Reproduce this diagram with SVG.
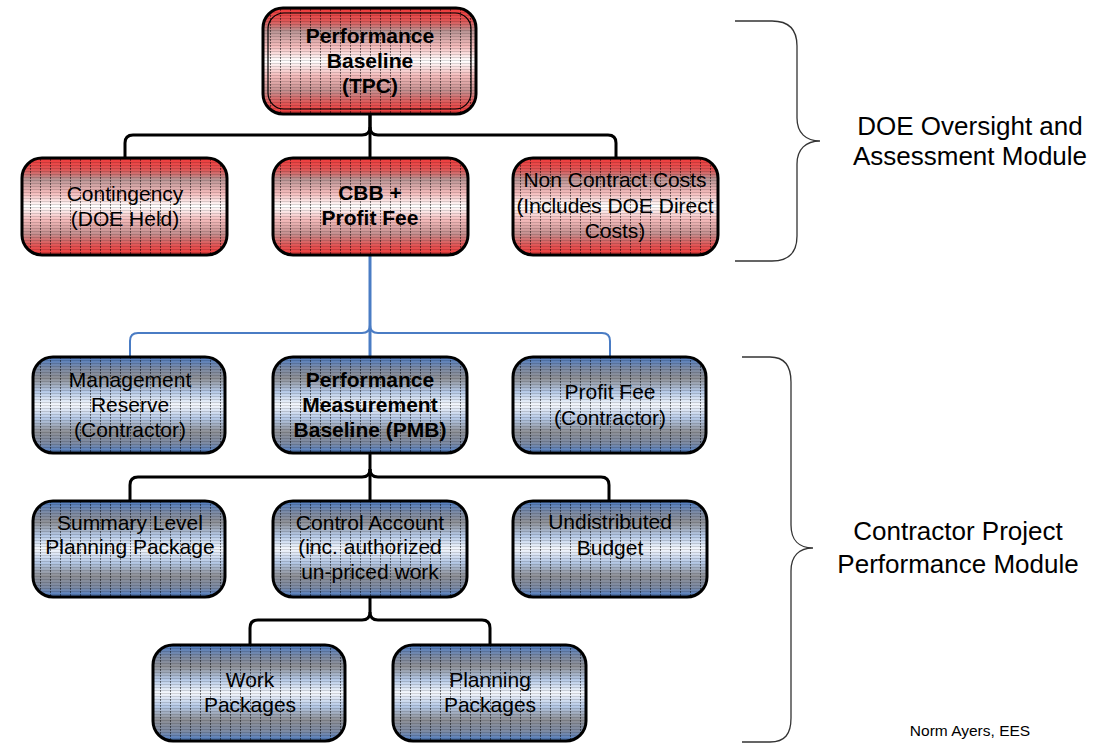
<svg xmlns="http://www.w3.org/2000/svg" width="1116" height="744" viewBox="0 0 1116 744">
<defs>
<linearGradient id="gRed" x1="0" y1="0" x2="0" y2="1">
<stop offset="0" stop-color="#f23a3a"/>
<stop offset="0.12" stop-color="#e05555"/>
<stop offset="0.22" stop-color="#b89494"/>
<stop offset="0.36" stop-color="#f4baba"/>
<stop offset="0.5" stop-color="#ffffff"/>
<stop offset="0.64" stop-color="#f4baba"/>
<stop offset="0.78" stop-color="#c49090"/>
<stop offset="0.9" stop-color="#e05555"/>
<stop offset="1" stop-color="#f23a3a"/>
</linearGradient>
<linearGradient id="gBlue" x1="0" y1="0" x2="0" y2="1">
<stop offset="0" stop-color="#4f7fc8"/>
<stop offset="0.12" stop-color="#7c8aa4"/>
<stop offset="0.22" stop-color="#8e9096"/>
<stop offset="0.36" stop-color="#b4c8e6"/>
<stop offset="0.5" stop-color="#f4f7fc"/>
<stop offset="0.64" stop-color="#b4c8e6"/>
<stop offset="0.78" stop-color="#8e9096"/>
<stop offset="0.9" stop-color="#7c8aa4"/>
<stop offset="1" stop-color="#4f7fc8"/>
</linearGradient>
<pattern id="hatch" patternUnits="userSpaceOnUse" width="10" height="3">
<rect x="0" y="0" width="10" height="1" fill="#000" fill-opacity="0.14"/>
<rect x="0" y="0" width="1" height="2" fill="#000" fill-opacity="0.5"/>
</pattern>
</defs>
<style>
.bg{stroke:none}
.red{fill:url(#gRed)}
.blue{fill:url(#gBlue)}
.hatch{fill:url(#hatch);stroke:#000;stroke-width:3}
.t{font-family:"Liberation Sans",Arial,sans-serif;font-size:21px;fill:#000;text-anchor:middle}
.b{font-weight:bold}
.conn{fill:none;stroke:#000;stroke-width:3}
.bconn{fill:none;stroke:#4a7cc4;stroke-width:2}
.brace{fill:none;stroke:#333;stroke-width:1.3}
.side{font-family:"Liberation Sans",Arial,sans-serif;font-size:26px;fill:#000;text-anchor:middle}
.note{font-family:"Liberation Sans",Arial,sans-serif;font-size:15.5px;fill:#000;text-anchor:middle}
</style>

<g id="connectors">
<path class="conn" d="M370,114 V127 Q370,135 362,135 H133 Q125,135 125,143 V158"/>
<path class="conn" d="M370,114 V158"/>
<path class="conn" d="M370,127 Q370,135 378,135 H608 Q616,135 616,143 V158"/>
<path class="bconn" style="stroke-width:3" d="M370,255 V357"/>
<path class="bconn" d="M370,325 Q370,333 362,333 H138 Q130,333 130,341 V357"/>
<path class="bconn" d="M370,325 Q370,333 378,333 H602 Q610,333 610,341 V357"/>
<path class="conn" d="M370,453 V501"/>
<path class="conn" d="M370,469 Q370,477 362,477 H138 Q130,477 130,485 V501"/>
<path class="conn" d="M370,469 Q370,477 378,477 H601 Q609,477 609,485 V501"/>
<path class="conn" d="M370,597 V612 Q370,620 362,620 H258 Q250,620 250,628 V645"/>
<path class="conn" d="M370,612 Q370,620 378,620 H482 Q490,620 490,628 V645"/>
</g>

<g id="n-tpc">
<rect class="bg red" x="263" y="8" width="213" height="106" rx="20"/>
<rect class="hatch" x="263" y="8" width="213" height="106" rx="20"/>
<rect x="268" y="13" width="203" height="96" rx="16" fill="none" stroke="#000" stroke-width="1.2"/>
<text class="t b" x="370" y="43">Performance</text>
<text class="t b" x="370" y="68">Baseline</text>
<text class="t b" x="370" y="93">(TPC)</text>
</g>

<g id="n-contingency">
<rect class="bg red" x="22" y="158" width="205" height="97" rx="20"/>
<rect class="hatch" x="22" y="158" width="205" height="97" rx="20"/>
<text class="t" x="125" y="201">Contingency</text>
<text class="t" x="125" y="226">(DOE Held)</text>
</g>

<g id="n-cbb">
<rect class="bg red" x="273" y="158" width="195" height="97" rx="20"/>
<rect class="hatch" x="273" y="158" width="195" height="97" rx="20"/>
<text class="t b" x="370" y="200">CBB +</text>
<text class="t b" x="370" y="225">Profit Fee</text>
</g>

<g id="n-noncontract">
<rect class="bg red" x="513" y="158" width="205" height="97" rx="20"/>
<rect class="hatch" x="513" y="158" width="205" height="97" rx="20"/>
<text class="t" x="615" y="187">Non Contract Costs</text>
<text class="t" x="615" y="213">(Includes DOE Direct</text>
<text class="t" x="615" y="238">Costs)</text>
</g>

<g id="n-mr">
<rect class="bg blue" x="33" y="357" width="192" height="96" rx="20"/>
<rect class="hatch" x="33" y="357" width="192" height="96" rx="20"/>
<text class="t" x="130" y="387">Management</text>
<text class="t" x="130" y="412">Reserve</text>
<text class="t" x="130" y="437">(Contractor)</text>
</g>

<g id="n-pmb">
<rect class="bg blue" x="273" y="357" width="194" height="96" rx="20"/>
<rect class="hatch" x="273" y="357" width="194" height="96" rx="20"/>
<text class="t b" x="370" y="387">Performance</text>
<text class="t b" x="370" y="412">Measurement</text>
<text class="t b" x="370" y="437">Baseline (PMB)</text>
</g>

<g id="n-profit">
<rect class="bg blue" x="513" y="357" width="193" height="96" rx="20"/>
<rect class="hatch" x="513" y="357" width="193" height="96" rx="20"/>
<text class="t" x="610" y="399">Profit Fee</text>
<text class="t" x="610" y="425">(Contractor)</text>
</g>

<g id="n-slpp">
<rect class="bg blue" x="33" y="501" width="192" height="96" rx="20"/>
<rect class="hatch" x="33" y="501" width="192" height="96" rx="20"/>
<text class="t" x="130" y="530">Summary Level</text>
<text class="t" x="130" y="554">Planning Package</text>
</g>

<g id="n-ca">
<rect class="bg blue" x="273" y="501" width="194" height="96" rx="20"/>
<rect class="hatch" x="273" y="501" width="194" height="96" rx="20"/>
<text class="t" x="370" y="530">Control Account</text>
<text class="t" x="370" y="554">(inc. authorized</text>
<text class="t" x="370" y="579">un-priced work</text>
</g>

<g id="n-ub">
<rect class="bg blue" x="513" y="501" width="194" height="96" rx="20"/>
<rect class="hatch" x="513" y="501" width="194" height="96" rx="20"/>
<text class="t" x="610" y="529">Undistributed</text>
<text class="t" x="610" y="555">Budget</text>
</g>

<g id="n-wp">
<rect class="bg blue" x="153" y="645" width="192" height="96" rx="20"/>
<rect class="hatch" x="153" y="645" width="192" height="96" rx="20"/>
<text class="t" x="250" y="687">Work</text>
<text class="t" x="250" y="712">Packages</text>
</g>

<g id="n-pp">
<rect class="bg blue" x="393" y="645" width="193" height="96" rx="20"/>
<rect class="hatch" x="393" y="645" width="193" height="96" rx="20"/>
<text class="t" x="490" y="687">Planning</text>
<text class="t" x="490" y="712">Packages</text>
</g>

<g id="brace-doe">
<path class="brace" d="M735,21 H772 C790,21 797,30 797,46 V118 C797,133 806,141 820,141 C806,141 797,149 797,164 V236 C797,252 790,261 772,261 H735"/>
<text class="side" x="970" y="135">DOE Oversight and</text>
<text class="side" x="970" y="165">Assessment Module</text>
</g>

<g id="brace-contractor">
<path class="brace" d="M742,357 H770 C785,357 791,366 791,382 V525 C791,540 799,548 813,548 C799,548 791,556 791,571 V718 C791,734 785,742 770,742 H742"/>
<text class="side" x="958" y="540">Contractor Project</text>
<text class="side" x="958" y="573">Performance Module</text>
</g>

<text class="note" x="970" y="736">Norm Ayers, EES</text>
</svg>
